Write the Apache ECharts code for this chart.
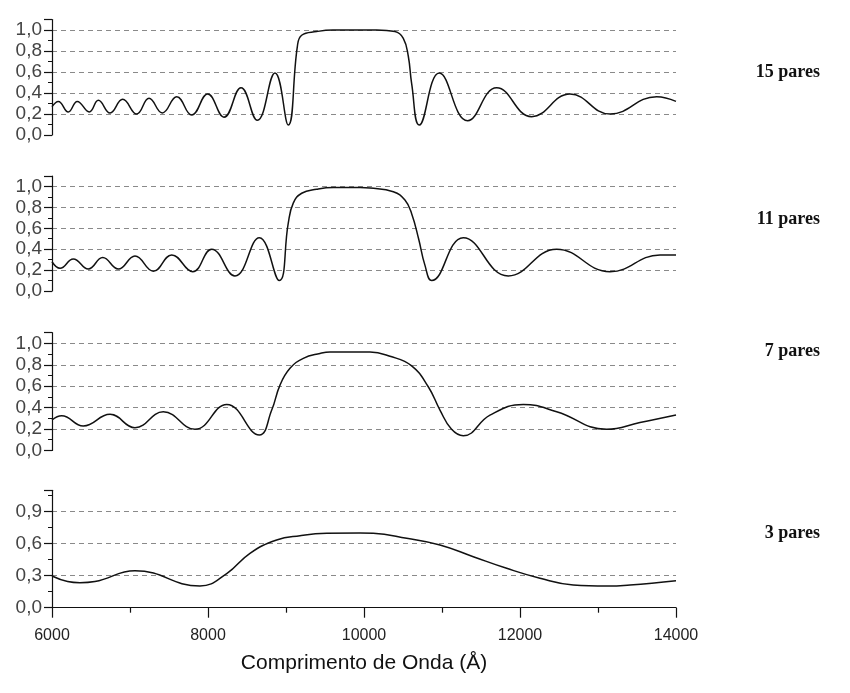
<!DOCTYPE html>
<html>
<head>
<meta charset="utf-8">
<script src="https://cdn.jsdelivr.net/npm/echarts@6/dist/echarts.min.js"></script>
<style>
  html, body { margin: 0; padding: 0; background: #fff; }
  #chart { width: 850px; height: 693px; }
</style>
</head>
<body>
<div id="chart"></div>
<script>
// comprimento de onda (Å) e refletância de cada espelho
const wl15 = [6000, 6081, 6209, 6324, 6478, 6594, 6744, 6906, 7086, 7244, 7414, 7599, 7791, 7996, 8205, 8423, 8632, 8859, 9029, 9145, 9201, 9393, 9602, 9800, 10000, 10163, 10397, 10504, 10568, 10611, 10709, 10965, 11329, 11701, 12150, 12641, 13154, 13752, 14000]
const r15 = [0.27, 0.32, 0.22, 0.32, 0.22, 0.33, 0.21, 0.34, 0.20, 0.35, 0.21, 0.365, 0.19, 0.39, 0.17, 0.45, 0.14, 0.59, 0.095, 0.84, 0.95, 0.985, 1.0, 1.0, 1.0, 1.0, 0.985, 0.92, 0.75, 0.49, 0.095, 0.59, 0.136, 0.45, 0.175, 0.39, 0.20, 0.365, 0.32]

const wl11 = [6000, 6103, 6273, 6465, 6650, 6850, 7064, 7299, 7535, 7804, 8047, 8346, 8658, 8914, 9029, 9093, 9201, 9393, 9606, 9949, 10077, 10376, 10525, 10611, 10700, 10780, 10868, 11273, 11850, 12470, 13154, 13795, 14000]
const r11 = [0.28, 0.217, 0.306, 0.21, 0.32, 0.21, 0.335, 0.19, 0.345, 0.185, 0.40, 0.144, 0.51, 0.10, 0.65, 0.84, 0.935, 0.973, 0.99, 0.99, 0.985, 0.95, 0.87, 0.74, 0.50, 0.25, 0.10, 0.51, 0.144, 0.40, 0.185, 0.345, 0.345]

const wl7 = [6000, 6124, 6401, 6744, 7064, 7427, 7833, 8240, 8658, 8817, 8923, 9051, 9222, 9436, 9564, 10077, 10333, 10611, 10824, 10974, 11120, 11273, 11615, 12042, 12470, 13111, 13538, 14000]
const r7 = [0.284, 0.324, 0.228, 0.337, 0.212, 0.361, 0.197, 0.43, 0.144, 0.377, 0.61, 0.767, 0.86, 0.906, 0.92, 0.92, 0.88, 0.79, 0.595, 0.377, 0.20, 0.137, 0.33, 0.43, 0.361, 0.197, 0.26, 0.33]

const wl3 = [6000, 6200, 6359, 6550, 7064, 7897, 8240, 8538, 8880, 9179, 9522, 9949, 10119, 10547, 10974, 11401, 11829, 12256, 12683, 13111, 13410, 14000]
const r3 = [0.297, 0.245, 0.234, 0.245, 0.347, 0.203, 0.32, 0.51, 0.635, 0.675, 0.697, 0.70, 0.697, 0.65, 0.588, 0.478, 0.369, 0.276, 0.213, 0.203, 0.213, 0.253]

const labels = ['15 pares', '11 pares', '7 pares', '3 pares']
const xTicks = [6000, 8000, 10000, 12000, 14000]

const pairs = (xs, ys) => xs.map((x, i) => [x, ys[i]])
const curves = [pairs(wl15, r15), pairs(wl11, r11), pairs(wl7, r7), pairs(wl3, r3)]

const grids = [
  { left: 52, right: 174, top: 19.5, height: 115.5 },
  { left: 52, right: 174, top: 176, height: 115 },
  { left: 52, right: 174, top: 332.7, height: 117.7 },
  { left: 52, right: 174, top: 490.3, height: 117.4 }
]
const labelTops = [63, 210, 342, 524]

const axisFont = 'Liberation Sans, Arial, sans-serif'

let chart = echarts.init(document.getElementById('chart'))

let option = {
  animation: false,
  backgroundColor: '#fff',
  title: labels.map((t, i) => ({
    text: t,
    right: 30,
    top: labelTops[i],
    padding: 0,
    textStyle: { fontFamily: 'Liberation Serif, Times New Roman, serif', fontWeight: 'bold', fontSize: 18, color: '#111' }
  })),
  grid: grids,
  xAxis: grids.map((g, i) => ({
    type: 'value',
    gridIndex: i,
    min: 6000,
    max: 14000,
    interval: 2000,
    show: i === 3,
    name: i === 3 ? 'Comprimento de Onda (Å)' : '',
    nameLocation: 'middle',
    nameGap: 45,
    nameTextStyle: { fontFamily: axisFont, fontSize: 21, color: '#111' },
    axisLine: { show: true, lineStyle: { color: '#111', width: 1.2 } },
    axisTick: { show: true, length: 10, lineStyle: { color: '#111', width: 1.2 } },
    minorTick: { show: true, splitNumber: 2, length: 5, lineStyle: { color: '#111', width: 1.2 } },
    axisLabel: { margin: 20, fontFamily: axisFont, fontSize: 16, color: '#222', formatter: v => xTicks.includes(v) ? String(v) : '' },
    splitLine: { show: false }
  })),
  yAxis: grids.map((g, i) => ({
    type: 'value',
    gridIndex: i,
    min: 0,
    max: 1.1,
    interval: i === 3 ? 0.3 : 0.2,
    axisLine: { show: true, lineStyle: { color: '#111', width: 1.2 } },
    axisTick: { show: true, length: 8, lineStyle: { color: '#111', width: 1.2 } },
    minorTick: { show: true, splitNumber: 2, length: 4, lineStyle: { color: '#111', width: 1 } },
    axisLabel: {
      margin: 10,
      fontFamily: axisFont,
      fontSize: 19,
      color: '#444',
      showMaxLabel: false,
      formatter: v => v.toFixed(1).replace('.', ',')
    },
    splitLine: {
      show: true,
      showMinLine: false,
      showMaxLine: false,
      lineStyle: { color: '#8a8a8a', width: 1, type: [5, 4] }
    }
  })),
  series: curves.map((d, i) => ({
    type: 'line',
    xAxisIndex: i,
    yAxisIndex: i,
    data: d,
    smooth: 0.45,
    showSymbol: false,
    lineStyle: { color: '#111', width: 1.5 }
  }))
}

chart.setOption(option)
</script>
</body>
</html>
